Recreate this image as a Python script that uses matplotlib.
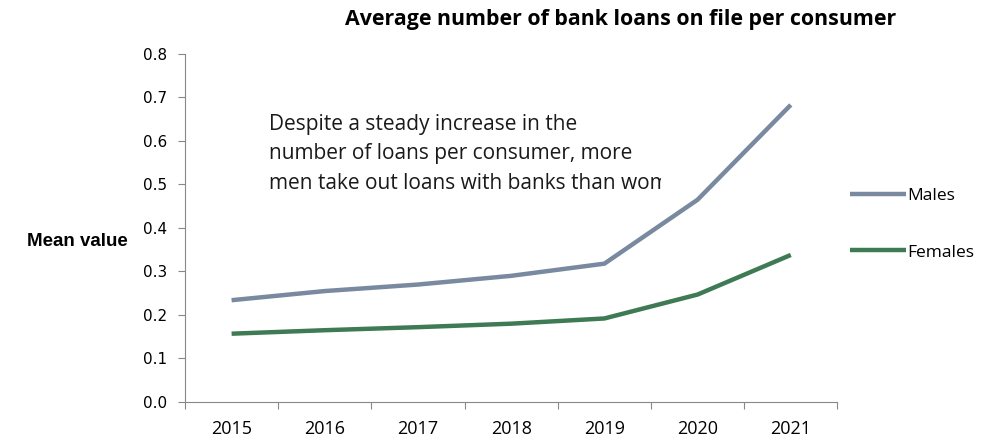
import numpy as np
import matplotlib.pyplot as plt
from matplotlib.transforms import Bbox, TransformedBbox

years = ['2015', '2016', '2017', '2018', '2019', '2020', '2021']
males = [0.234, 0.255, 0.270, 0.290, 0.318, 0.465, 0.683]
females = [0.157, 0.165, 0.172, 0.180, 0.192, 0.247, 0.338]

plt.rcParams['font.family'] = ['Open Sans', 'DejaVu Sans']

fig = plt.figure(figsize=(9.84, 4.4), dpi=100)
ax = fig.add_axes([0.188, 0.0864, 0.663, 0.7909])

x = np.arange(len(years))
ax.plot(x, males, color='#7889A0', linewidth=3.2, label='Males', solid_capstyle='butt')
ax.plot(x, females, color='#3E7A54', linewidth=3.2, label='Females', solid_capstyle='butt')

ax.set_xlim(-0.5, len(years) - 0.5)
ax.set_ylim(0, 0.8)
yt = np.arange(0, 0.81, 0.1)
ax.set_yticks(yt)
ax.set_yticklabels([f'{v:.1f}' for v in yt], fontsize=11, family='DejaVu Sans')

# category axis: ticks on the boundaries, labels in the middle
ax.set_xticks(np.arange(-0.5, len(years), 1.0))
ax.set_xticklabels([])
ax.set_xticks(x, minor=True)
ax.set_xticklabels(years, minor=True, fontsize=13)
ax.tick_params(axis='x', which='minor', length=0, pad=13)
ax.tick_params(axis='both', which='major', length=5, direction='out', color='#888888')
ax.tick_params(axis='y', pad=8)

for s in ['top', 'right']:
    ax.spines[s].set_visible(False)
for s in ['left', 'bottom']:
    ax.spines[s].set_color('#888888')

ax.set_ylabel('Mean value', rotation=0, fontsize=13.5, fontweight='bold',
              family=['Liberation Sans', 'DejaVu Sans'], ha='right', va='center')
ax.yaxis.set_label_coords(-0.088, 0.46)

fig.text(0.631, 0.955, 'Average number of bank loans on file per consumer',
         ha='center', va='center', fontsize=15.4, fontweight='bold')

note = ax.text(0.4, 0.662,
               'Despite a steady increase in the\n'
               'number of loans per consumer, more\n'
               'men take out loans with banks than women',
               transform=ax.transData, fontsize=15, va='top', ha='left',
               linespacing=1.52, color='#1a1a1a')
note.set_clip_box(TransformedBbox(Bbox([[0.3, 0.45], [4.61, 0.8]]), ax.transData))
note.set_clip_on(True)

ax.legend(loc='center left', bbox_to_anchor=(0.848, 0.49), bbox_transform=fig.transFigure,
          frameon=False, fontsize=12.5, handlelength=3.2, handletextpad=0.1,
          labelspacing=2.3)

fig.savefig('out.png', dpi=100)
